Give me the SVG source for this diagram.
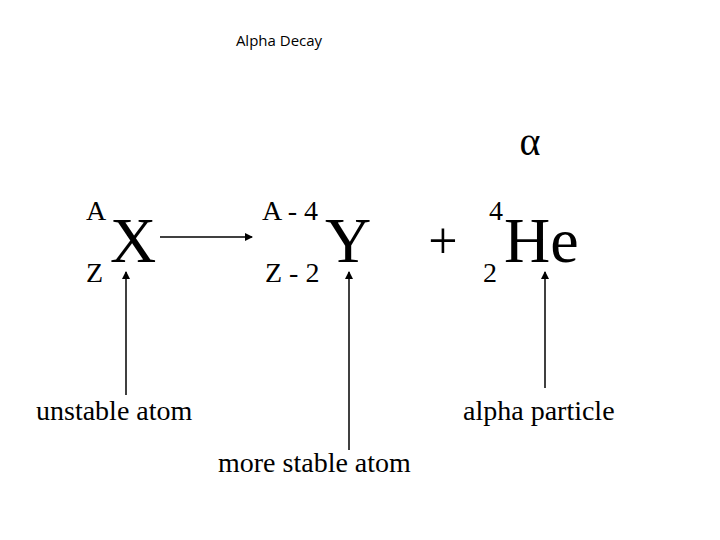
<svg xmlns="http://www.w3.org/2000/svg" width="720" height="540" viewBox="0 0 720 540">
<style>
.s{font-family:"Liberation Serif",serif;fill:#000}
.big{font-size:64px}.sm{font-size:28px}.lb{font-size:28px}
.c line{stroke:#000;stroke-width:1.5}
</style>
<defs><marker id="ah" markerWidth="8" markerHeight="8" refX="7" refY="4" orient="auto" markerUnits="userSpaceOnUse"><path d="M0,0 L8,4 L0,8 Z" fill="#000"/></marker></defs>
<rect width="720" height="540" fill="#fff"/>
<text x="279" y="46" text-anchor="middle" font-family="Open Sans,sans-serif" font-size="15">Alpha Decay</text>
<text class="s" x="530" y="155" font-size="40" text-anchor="middle">α</text>
<g id="X"><text class="s sm" x="86" y="220">A</text><text class="s sm" x="86" y="282">Z</text><text class="s big" x="110" y="262">X</text></g>
<g id="Y"><text class="s sm" x="262" y="220">A - 4</text><text class="s sm" x="265" y="282">Z - 2</text><text class="s big" x="325" y="262">Y</text></g>
<g id="plus"><text class="s" x="443" y="258" font-size="52" text-anchor="middle">+</text></g>
<g id="He"><text class="s sm" x="489" y="220">4</text><text class="s sm" x="483" y="282">2</text><text class="s big" x="504" y="262">He</text></g>
<g id="l1"><text class="s lb" x="36" y="420">unstable atom</text></g>
<g id="l2"><text class="s lb" x="463" y="420">alpha particle</text></g>
<g id="l3"><text class="s lb" x="218" y="472">more stable atom</text></g>
<g class="c">
<line x1="160" y1="237" x2="252" y2="237" marker-end="url(#ah)"/>
<line x1="126" y1="395" x2="126" y2="272" marker-end="url(#ah)"/>
<line x1="349" y1="450" x2="349" y2="272" marker-end="url(#ah)"/>
<line x1="545" y1="388" x2="545" y2="272" marker-end="url(#ah)"/>
</g>
</svg>
